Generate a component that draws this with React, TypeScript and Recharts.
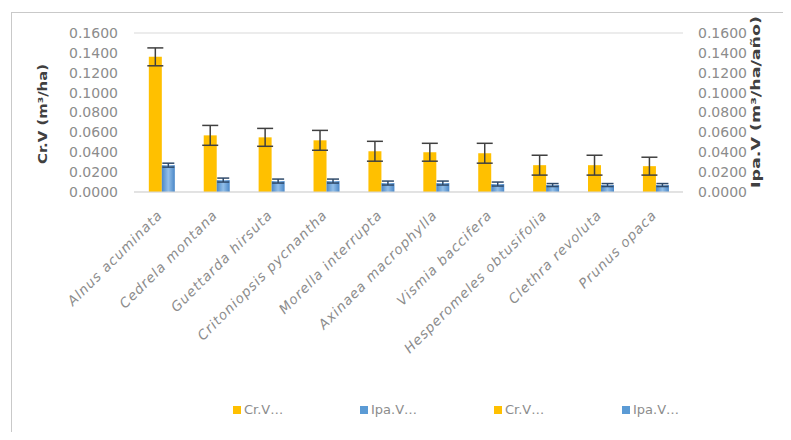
import React from 'react';
import { BarChart, Bar, XAxis, YAxis, CartesianGrid, ErrorBar, Legend } from 'recharts';

const categories = [
  'Alnus acuminata',
  'Cedrela montana',
  'Guettarda hirsuta',
  'Critoniopsis pycnantha',
  'Morella interrupta',
  'Axinaea macrophylla',
  'Vismia baccifera',
  'Hesperomeles obtusifolia',
  'Clethra revoluta',
  'Prunus opaca',
];
const crValues = [0.136, 0.057, 0.055, 0.052, 0.041, 0.04, 0.039, 0.027, 0.027, 0.026];
const crErrors = [0.009, 0.01, 0.009, 0.01, 0.01, 0.009, 0.01, 0.01, 0.01, 0.009];
const ipaValues = [0.027, 0.012, 0.011, 0.011, 0.009, 0.009, 0.008, 0.007, 0.007, 0.007];
const ipaErrors = [0.002, 0.002, 0.002, 0.002, 0.002, 0.002, 0.002, 0.0015, 0.0015, 0.0015];
const tickValues = [0, 0.02, 0.04, 0.06, 0.08, 0.1, 0.12, 0.14, 0.16];
const leftTitle = 'Cr.V (m³/ha)';
const rightTitle = 'Ipa.V (m³/ha/año)';
const legendLabels = ['Cr.V…', 'Ipa.V…', 'Cr.V…', 'Ipa.V…'];

const YELLOW = '#FFC000';
const BLUE = '#5B9BD5';
const legendColors = [YELLOW, BLUE, YELLOW, BLUE];

const data = categories.map((name, i) => ({
  name,
  cr: crValues[i],
  crErr: crErrors[i],
  ipa: ipaValues[i],
  ipaErr: ipaErrors[i],
}));

const TICK_FONT = '"DejaVu Sans", sans-serif';
const GREY = '#8c8c8c';

const XTick = (props: any) => {
  const { x, y, payload } = props;
  const ax = x + 2;
  const ay = y + 16;
  return (
    <text
      x={ax}
      y={ay}
      transform={`rotate(-45, ${ax}, ${ay})`}
      textAnchor="end"
      fontFamily={TICK_FONT}
      fontStyle="italic"
      fontSize={13.5}
      letterSpacing={1}
      fill={GREY}
    >
      {payload.value}
    </text>
  );
};

const LegendContent = () => (
  <div style={{ position: 'relative', width: 791, height: 40 }}>
    {legendLabels.map((label, i) => {
      const left = [233, 360, 494, 622][i];
      return (
        <div
          key={i}
          style={{
            position: 'absolute',
            left,
            top: 12,
            display: 'flex',
            alignItems: 'center',
            fontFamily: TICK_FONT,
            fontSize: 13,
            color: GREY,
            whiteSpace: 'nowrap',
          }}
        >
          <span
            style={{
              display: 'inline-block',
              width: 8,
              height: 8,
              background: legendColors[i],
              marginRight: 3,
            }}
          />
          <span>{label}</span>
        </div>
      );
    })}
  </div>
);

export default function App() {
  return (
    <div
      style={{
        position: 'relative',
        width: 791,
        height: 440,
        margin: -8,
        overflow: 'hidden',
        background: '#ffffff',
      }}
    >
      <div
        style={{
          position: 'absolute',
          left: 11,
          top: 12,
          width: 900,
          height: 600,
          border: '1.5px solid #c9c9c9',
        }}
      />
      <div style={{ position: 'absolute', left: 0, top: 0 }}>
        <BarChart
          width={791}
          height={440}
          data={data}
          margin={{ top: 33, right: 28, left: 54, bottom: 10 }}
          barCategoryGap="27%"
          barGap={0}
        >
          <defs>
            <linearGradient id="blueGrad" x1="0" y1="0" x2="1" y2="0">
              <stop offset="0%" stopColor="#4a87c8" />
              <stop offset="50%" stopColor="#93bfe8" />
              <stop offset="100%" stopColor="#4a87c8" />
            </linearGradient>
          </defs>
          <CartesianGrid vertical={false} stroke="#d9d9d9" strokeWidth={1} />
          <XAxis
            dataKey="name"
            height={198}
            interval={0}
            tickLine={false}
            axisLine={{ stroke: '#d9d9d9' }}
            tick={<XTick />}
          />
          <YAxis
            yAxisId="left"
            width={80}
            domain={[0, 0.16]}
            ticks={tickValues}
            interval={0}
            tickFormatter={(v: number) => v.toFixed(4)}
            axisLine={false}
            tickLine={false}
            tickSize={0}
            tickMargin={16}
            tick={{ fontFamily: TICK_FONT, fontSize: 14, fill: GREY }}
            label={{
              content: () => (
                <text
                  x={47}
                  y={114}
                  transform="rotate(-90, 47, 114)"
                  textAnchor="middle"
                  fontFamily={TICK_FONT}
                  fontWeight="bold"
                  fontSize={12.5}
                  fill="#404040"
                  textLength={100}
                  lengthAdjust="spacingAndGlyphs"
                >
                  {leftTitle}
                </text>
              ),
            }}
          />
          <YAxis
            yAxisId="right"
            orientation="right"
            width={80}
            domain={[0, 0.16]}
            ticks={tickValues}
            interval={0}
            tickFormatter={(v: number) => v.toFixed(4)}
            axisLine={false}
            tickLine={false}
            tickSize={0}
            tickMargin={15}
            tick={{ fontFamily: TICK_FONT, fontSize: 14, fill: GREY }}
            label={{
              content: () => (
                <text
                  x={760}
                  y={102}
                  transform="rotate(-90, 760, 102)"
                  textAnchor="middle"
                  fontFamily={TICK_FONT}
                  fontWeight="bold"
                  fontSize={13}
                  fill="#404040"
                  textLength={172}
                  lengthAdjust="spacingAndGlyphs"
                >
                  {rightTitle}
                </text>
              ),
            }}
          />
          <Legend
            verticalAlign="bottom"
            height={40}
            wrapperStyle={{ left: 0, width: 791 }}
            content={<LegendContent />}
          />
          <Bar dataKey="cr" yAxisId="left" fill={YELLOW} isAnimationActive={false}>
            <ErrorBar dataKey="crErr" width={8} stroke="#404040" strokeWidth={1.5} direction="y" />
          </Bar>
          <Bar dataKey="ipa" yAxisId="right" fill="url(#blueGrad)" isAnimationActive={false}>
            <ErrorBar dataKey="ipaErr" width={6} stroke="#2f4a6a" strokeWidth={1.5} direction="y" />
          </Bar>
        </BarChart>
      </div>
    </div>
  );
}
